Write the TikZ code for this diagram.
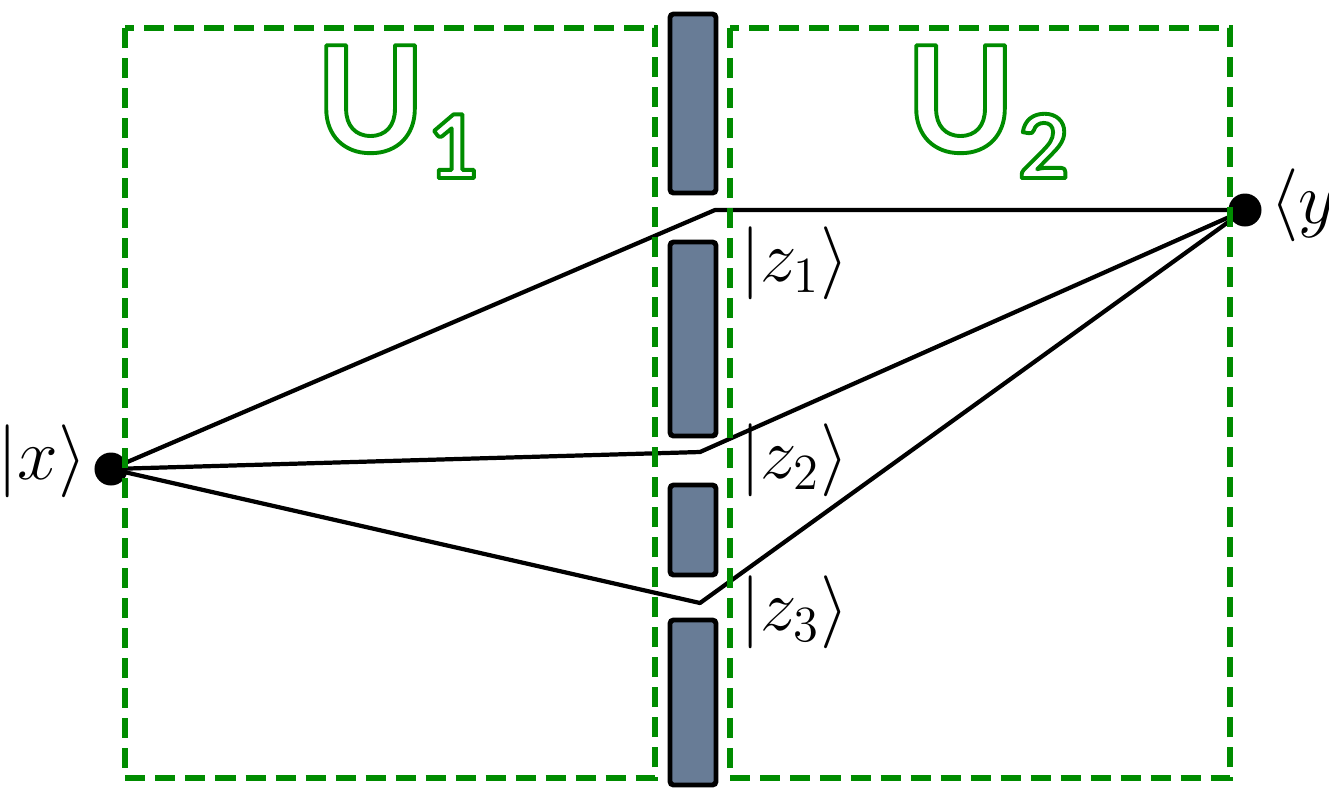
\documentclass[tikz,border=0pt]{standalone}
\usepackage{fontspec}
\newfontfamily\ufont{Lato}
\usetikzlibrary{calc}

\definecolor{boxgreen}{RGB}{0,140,0}
\definecolor{slitgray}{RGB}{104,124,150}

% big region label, U with a lowered index
\newcommand{\Ulabel}[1]{{\ufont\bfseries\fontsize{42}{42}\selectfont U\hspace{0.03cm}\raisebox{-0.26cm}{\fontsize{25}{25}\selectfont #1}}}
% white letters with a green outline (text render mode 2)
\newcommand{\outlined}[1]{{\color{white}%
    \special{pdf:literal direct 0 0.549 0 RG 1.1 w 1 j 2 Tr}#1\special{pdf:literal direct 0 Tr}}}

\begin{document}
\begin{tikzpicture}[x=0.01cm, y=-0.01cm,
        region/.style={draw=boxgreen, line width=1.5pt, dash pattern=on 0.2cm off 0.1cm},
        wall/.style={draw=black, line width=1.4pt, fill=slitgray, rounded corners=1pt},
        ray/.style={draw=black, line width=1.2pt, line join=round},
        dot/.style={circle, fill=black, inner sep=0pt, minimum size=0.33cm},
        ket/.style={inner sep=1pt, font=\fontsize{20}{24}\selectfont},
        ulabel/.style={inner sep=0pt, anchor=base west}
    ]
    \useasboundingbox (0,0) rectangle (1329,787);

    % the wall with three slits
    \draw[wall] (670,14) rectangle (716,193);
    \draw[wall] (670,242) rectangle (716,436);
    \draw[wall] (670,485) rectangle (716,575);
    \draw[wall] (670,620) rectangle (716,785);

    % source, detector and slit points
    \node[dot] (x) at (111,469) {};
    \node[dot] (y) at (1245,210) {};
    \coordinate (s1) at (715,210);
    \coordinate (s2) at (700,452);
    \coordinate (s3) at (700,603);

    % paths through the slits
    \draw[ray] (x.center) -- (s1) -- (y.center);
    \draw[ray] (x.center) -- (s2) -- (y.center);
    \draw[ray] (x.center) -- (s3) -- (y.center);

    % kets
    \node[ket, anchor=east] (xlab) at (91,461) {$\bigl|x\bigr\rangle$};
    \node[ket, anchor=west] (ylab) at (1266,205) {$\bigl\langle y$};
    \node[ket, anchor=west] (z1lab) at (736,263) {$\bigl|z_1\bigr\rangle$};
    \node[ket, anchor=west] (z2lab) at (736,460) {$\bigl|z_2\bigr\rangle$};
    \node[ket, anchor=west] (z3lab) at (736,612) {$\bigl|z_3\bigr\rangle$};

    % the two regions
    \draw[region] (125,28) rectangle (655,778);
    \draw[region] (730,28) rectangle (1230,778);

    % labels U1 and U2
    \node[ulabel] (u1) at (315,152) {\outlined{\Ulabel{1}}};
    \node[ulabel] (u2) at (905,152) {\outlined{\Ulabel{2}}};
\end{tikzpicture}
\end{document}
